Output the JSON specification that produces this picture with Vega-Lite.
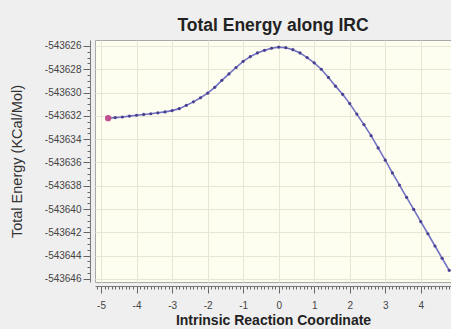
{
  "$schema": "https://vega.github.io/schema/vega-lite/v6.json",
  "width": 356,
  "height": 242,
  "autosize": {"type": "none"},
  "padding": {"left": 95, "top": 40, "right": 0, "bottom": 47},
  "background": "#efefef",
  "config": {
    "view": {"fill": "#fdfdf0", "stroke": "#a8a8a8", "strokeWidth": 1},
    "font": "Liberation Sans"
  },
  "title": {"text": "Total Energy along IRC", "fontSize": 17.5, "font": "Liberation Sans", "fontWeight": "bold", "color": "#222222", "offset": 6, "anchor": "middle"},
  "data": {"values": [
    {"irc": -4.8, "energy": -543632.20},
    {"irc": -4.6, "energy": -543632.15},
    {"irc": -4.4, "energy": -543632.10},
    {"irc": -4.2, "energy": -543632.02},
    {"irc": -4.0, "energy": -543631.95},
    {"irc": -3.8, "energy": -543631.88},
    {"irc": -3.6, "energy": -543631.82},
    {"irc": -3.4, "energy": -543631.74},
    {"irc": -3.2, "energy": -543631.66},
    {"irc": -3.0, "energy": -543631.55},
    {"irc": -2.8, "energy": -543631.38},
    {"irc": -2.6, "energy": -543631.10},
    {"irc": -2.4, "energy": -543630.80},
    {"irc": -2.2, "energy": -543630.45},
    {"irc": -2.0, "energy": -543630.05},
    {"irc": -1.8, "energy": -543629.55},
    {"irc": -1.6, "energy": -543628.95},
    {"irc": -1.4, "energy": -543628.40},
    {"irc": -1.2, "energy": -543627.85},
    {"irc": -1.0, "energy": -543627.32},
    {"irc": -0.8, "energy": -543626.92},
    {"irc": -0.6, "energy": -543626.60},
    {"irc": -0.4, "energy": -543626.38},
    {"irc": -0.2, "energy": -543626.20},
    {"irc": 0.0, "energy": -543626.10},
    {"irc": 0.2, "energy": -543626.15},
    {"irc": 0.4, "energy": -543626.32},
    {"irc": 0.6, "energy": -543626.60},
    {"irc": 0.8, "energy": -543627.00},
    {"irc": 1.0, "energy": -543627.45},
    {"irc": 1.2, "energy": -543628.00},
    {"irc": 1.4, "energy": -543628.70},
    {"irc": 1.6, "energy": -543629.45},
    {"irc": 1.8, "energy": -543630.15},
    {"irc": 2.0, "energy": -543630.95},
    {"irc": 2.2, "energy": -543631.85},
    {"irc": 2.4, "energy": -543632.75},
    {"irc": 2.6, "energy": -543633.70},
    {"irc": 2.8, "energy": -543634.75},
    {"irc": 3.0, "energy": -543635.80},
    {"irc": 3.2, "energy": -543636.90},
    {"irc": 3.4, "energy": -543637.94},
    {"irc": 3.6, "energy": -543638.99},
    {"irc": 3.8, "energy": -543640.03},
    {"irc": 4.0, "energy": -543641.08},
    {"irc": 4.2, "energy": -543642.12},
    {"irc": 4.4, "energy": -543643.17},
    {"irc": 4.6, "energy": -543644.22},
    {"irc": 4.8, "energy": -543645.26}
  ]},
  "encoding": {
    "x": {
      "field": "irc", "type": "quantitative",
      "scale": {"domain": [-5.17, 4.85], "nice": false, "zero": false},
      "axis": {
        "title": "Intrinsic Reaction Coordinate",
        "titleFont": "Liberation Sans", "titleFontSize": 14, "titleFontWeight": "bold", "titleColor": "#222222", "titlePadding": 3,
        "offset": 4,
        "values": [-5.1,-5,-4.9,-4.8,-4.7,-4.6,-4.5,-4.4,-4.3,-4.2,-4.1,-4,-3.9,-3.8,-3.7,-3.6,-3.5,-3.4,-3.3,-3.2,-3.1,-3,-2.9,-2.8,-2.7,-2.6,-2.5,-2.4,-2.3,-2.2,-2.1,-2,-1.9,-1.8,-1.7,-1.6,-1.5,-1.4,-1.3,-1.2,-1.1,-1,-0.9,-0.8,-0.7,-0.6,-0.5,-0.4,-0.3,-0.2,-0.1,0,0.1,0.2,0.3,0.4,0.5,0.6,0.7,0.8,0.9,1,1.1,1.2,1.3,1.4,1.5,1.6,1.7,1.8,1.9,2,2.1,2.2,2.3,2.4,2.5,2.6,2.7,2.8,2.9,3,3.1,3.2,3.3,3.4,3.5,3.6,3.7,3.8,3.9,4,4.1,4.2,4.3,4.4,4.5,4.6,4.7,4.8],
        "labelExpr": "abs(datum.value - round(datum.value)) < 0.001 ? '' + round(datum.value) : ''",
        "labelFontSize": 10, "labelColor": "#444444", "labelPadding": 7, "labelFlush": false,
        "tickSize": {"condition": {"test": "abs(datum.value - round(datum.value)) < 0.001", "value": 7}, "value": 3},
        "tickColor": "#666666", "domainColor": "#777777",
        "grid": true,
        "gridColor": "#e6e6d2",
        "gridOpacity": {"condition": {"test": "abs(datum.value - round(datum.value)) < 0.001", "value": 1}, "value": 0}
      }
    },
    "y": {
      "field": "energy", "type": "quantitative",
      "scale": {"domain": [-543646.26, -543625.49], "nice": false, "zero": false},
      "axis": {
        "title": "Total Energy (KCal/Mol)",
        "titleFont": "Liberation Sans", "titleFontSize": 14.5, "titleFontWeight": "normal", "titleColor": "#333333", "titlePadding": 20,
        "offset": 5,
        "values": [-543646,-543645.5,-543645,-543644.5,-543644,-543643.5,-543643,-543642.5,-543642,-543641.5,-543641,-543640.5,-543640,-543639.5,-543639,-543638.5,-543638,-543637.5,-543637,-543636.5,-543636,-543635.5,-543635,-543634.5,-543634,-543633.5,-543633,-543632.5,-543632,-543631.5,-543631,-543630.5,-543630,-543629.5,-543629,-543628.5,-543628,-543627.5,-543627,-543626.5,-543626],
        "labelExpr": "abs(datum.value % 2) < 0.001 ? '' + datum.value : ''",
        "labelFontSize": 10, "labelColor": "#444444", "labelPadding": 2,
        "tickSize": {"condition": {"test": "abs(datum.value % 2) < 0.001", "value": 7}, "value": 3},
        "tickColor": "#666666", "domainColor": "#777777",
        "grid": true,
        "gridColor": "#e6e6d2",
        "gridOpacity": {"condition": {"test": "abs(datum.value % 2) < 0.001", "value": 1}, "value": 0}
      }
    }
  },
  "layer": [
    {"mark": {"type": "line", "color": "#7272c4", "strokeWidth": 1.6, "clip": true}},
    {"mark": {"type": "point", "filled": true, "color": "#4a4090", "size": 10, "opacity": 1, "clip": true}},
    {
      "transform": [{"filter": "datum.irc === -4.8"}],
      "mark": {"type": "point", "filled": true, "color": "#c05090", "size": 40, "opacity": 1}
    }
  ]
}
